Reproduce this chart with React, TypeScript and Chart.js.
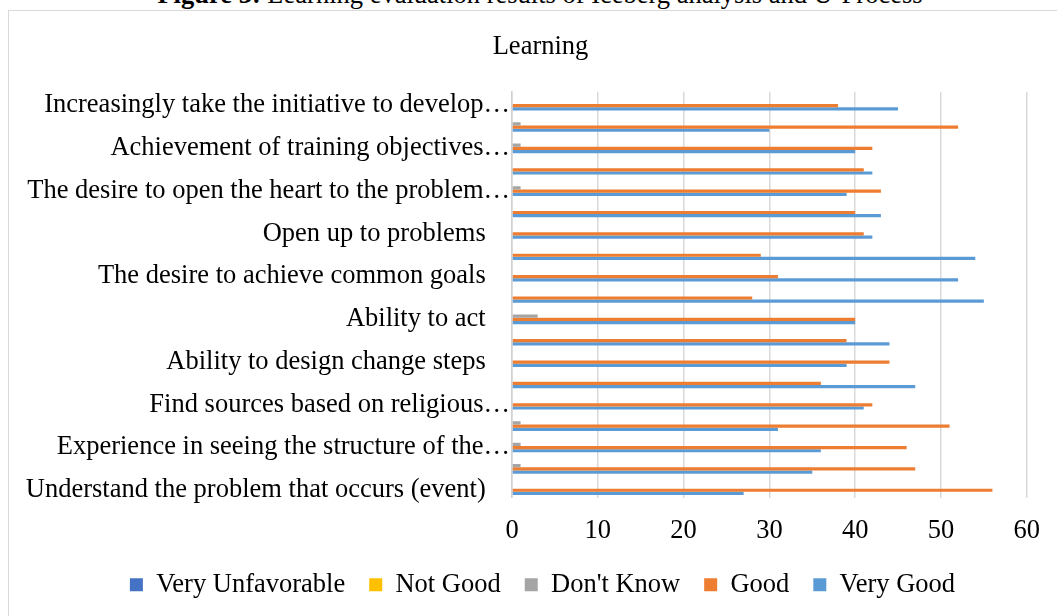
import React, { useEffect, useRef } from "react";
import { Chart, registerables } from "chart.js";

Chart.register(...registerables);

const categories: string[] = [
  "Increasingly take the initiative to develop…",
  "",
  "Achievement of training objectives…",
  "",
  "The desire to open the heart to the problem…",
  "",
  "Open up to problems",
  "",
  "The desire to achieve common goals",
  "",
  "Ability to act",
  "",
  "Ability to design change steps",
  "",
  "Find sources based on religious…",
  "",
  "Experience in seeing the structure of the…",
  "",
  "Understand the problem that occurs (event)",
];

const veryUnfavorable: number[] = [0, 0, 0, 0, 0, 0, 0, 0, 0, 0, 0, 0, 0, 0, 0, 0, 0, 0, 0];
const notGood: number[] = [0, 0, 0, 0, 0, 0, 0, 0, 0, 0, 0, 0, 0, 0, 0, 0, 0, 0, 0];
const dontKnow: number[] = [0, 1, 1, 0, 1, 0, 0, 0, 0, 0, 3, 0, 0, 0, 0, 1, 1, 1, 0];
const good: number[] = [38, 52, 42, 41, 43, 40, 41, 29, 31, 28, 40, 39, 44, 36, 42, 51, 46, 47, 56];
const veryGood: number[] = [45, 30, 40, 42, 39, 43, 42, 54, 52, 55, 40, 44, 39, 47, 41, 31, 36, 35, 27];

const xTicks: number[] = [0, 10, 20, 30, 40, 50, 60];

const chartTitle = "Learning";
const captionBold = "Figure 3:";
const captionText = " Learning evaluation results of Iceberg analysis and U-Process";

const FONT = '"Liberation Serif", "Times New Roman", serif';

const shiftPlugin = {
  id: "shiftBlocks",
  afterLayout(chart: any) {
    const t = chart.titleBlock;
    if (t) {
      t.left += 27;
      t.right += 27;
    }
    const l = chart.legend;
    if (l) {
      l.left += 29;
      l.right += 29;
    }
  },
};

export default function App() {
  const canvasRef = useRef<HTMLCanvasElement | null>(null);

  useEffect(() => {
    if (!canvasRef.current) return;
    const chart = new Chart(canvasRef.current, {
      type: "bar",
      data: {
        labels: categories,
        datasets: [
          { label: "Very Unfavorable", data: veryUnfavorable, backgroundColor: "#4472C4" },
          { label: "Not Good", data: notGood, backgroundColor: "#FFC000" },
          { label: "Don't Know", data: dontKnow, backgroundColor: "#A5A5A5" },
          { label: "Good", data: good, backgroundColor: "#ED7D31" },
          { label: "Very Good", data: veryGood, backgroundColor: "#5B9BD5" },
        ],
      },
      plugins: [shiftPlugin],
      options: {
        indexAxis: "y",
        animation: false,
        responsive: false,
        maintainAspectRatio: false,
        datasets: {
          bar: {
            categoryPercentage: 0.75,
            barPercentage: 1.0,
          },
        },
        layout: { padding: { top: 12, left: 0, right: 30, bottom: 0 } },
        plugins: {
          title: {
            display: true,
            text: chartTitle,
            color: "#000",
            font: { family: FONT, size: 26.5, weight: "normal" },
            padding: { top: 19, bottom: 29 },
          },
          legend: {
            display: true,
            position: "bottom",
            labels: {
              color: "#000",
              font: { family: FONT, size: 26.5 },
              boxWidth: 13,
              boxHeight: 13,
              padding: 24,
            },
          },
          tooltip: { enabled: false },
        },
        scales: {
          x: {
            min: 0,
            max: 60,
            afterBuildTicks: (scale: any) => {
              scale.ticks = xTicks.map((v) => ({ value: v }));
            },
            afterFit: (scale: any) => {
              scale.height = 49.75;
            },
            grid: { color: "#d9d9d9", lineWidth: 1.5, drawTicks: false },
            border: { display: false },
            ticks: {
              color: "#000",
              font: { family: FONT, size: 26.5 },
              padding: 17,
              maxRotation: 0,
            },
          },
          y: {
            afterFit: (scale: any) => {
              scale.width = 512;
            },
            grid: { display: false, drawTicks: false },
            border: { display: true, color: "#d0d0d0", width: 1.5 },
            ticks: {
              autoSkip: false,
              color: "#000",
              font: { family: FONT, size: 26.5 },
              padding: 2,
              labelOffset: 3,
              callback: function (this: any, value: any) {
                const l: string = this.getLabelForValue(value);
                if (l === "" || l.endsWith("…")) return l;
                return l + "\u2002\u2005\u2006";
              },
            },
          },
        },
      },
    });
    return () => chart.destroy();
  }, []);

  return (
    <div
      style={{
        position: "fixed",
        left: 0,
        top: 0,
        width: 1057,
        height: 616,
        overflow: "hidden",
        background: "#fff",
      }}
    >
      <div
        style={{
          position: "absolute",
          left: 0,
          top: -19,
          width: 1080,
          textAlign: "center",
          fontFamily: FONT,
          fontSize: 26.5,
          lineHeight: 1,
          color: "#000",
          whiteSpace: "nowrap",
        }}
      >
        <b>{captionBold}</b>
        {captionText}
      </div>
      <div
        style={{
          position: "absolute",
          left: 8,
          top: 10,
          width: 1200,
          height: 800,
          borderLeft: "1.5px solid #d9d9d9",
          borderTop: "1.5px solid #d9d9d9",
          boxSizing: "border-box",
        }}
      />
      <canvas
        ref={canvasRef}
        width={1057}
        height={608}
        style={{ position: "absolute", left: 0, top: 0, display: "block" }}
      />
    </div>
  );
}
